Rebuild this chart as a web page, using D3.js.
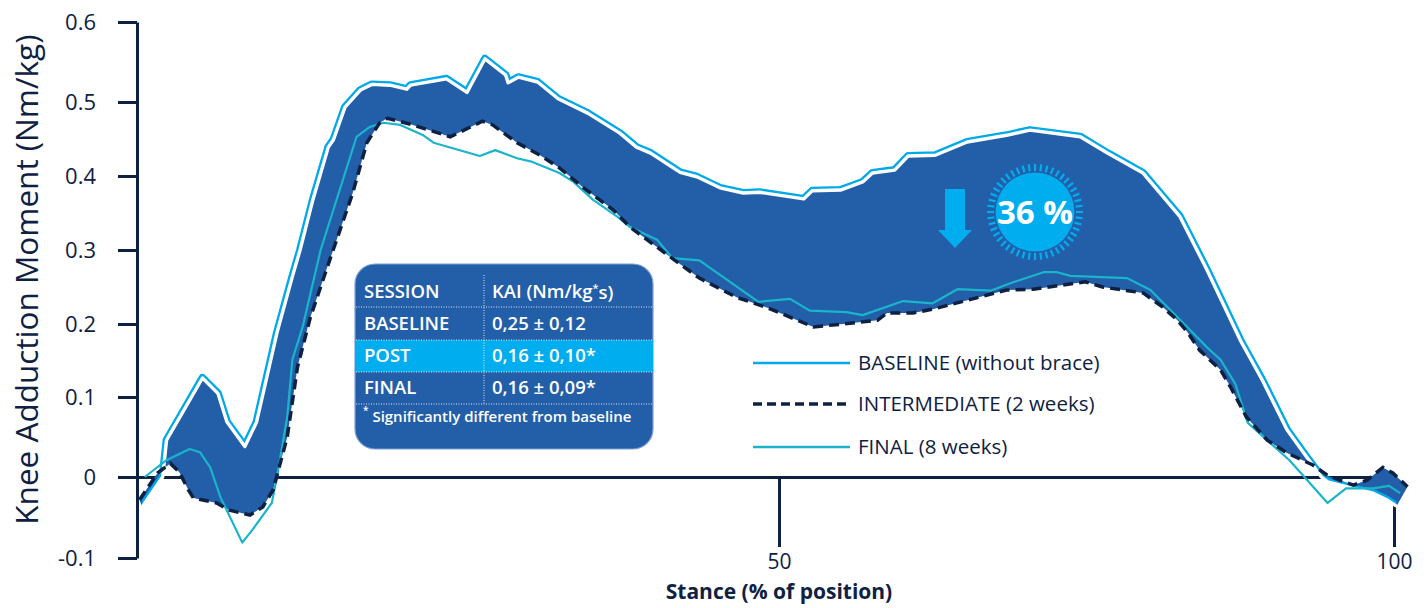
<!DOCTYPE html>
<html><head><meta charset="utf-8">
<script src="https://cdn.jsdelivr.net/npm/d3@7"></script>
<style>
html,body{margin:0;padding:0;background:#fff;}
svg{display:block;font-family:"Open Sans","Noto Sans",sans-serif;}
</style></head>
<body><svg id="c" width="1428" height="608"></svg>
<script>
// ---------- DATA ----------
const baseline = [[0.4,-0.037],[2.0,0.0],[2.3,0.046],[5.1,0.126],[6.3,0.105],[7.0,0.069],[8.4,0.038],[9.3,0.068],[10.9,0.188],[12.1,0.264],[12.7,0.300],[13.7,0.368],[14.9,0.439],[15.3,0.449],[16.2,0.493],[17.4,0.515],[18.3,0.522],[19.7,0.521],[21.0,0.516],[21.3,0.521],[24.1,0.529],[25.7,0.512],[27.1,0.554],[28.7,0.534],[28.9,0.524],[29.7,0.531],[31.2,0.525],[32.8,0.504],[35.1,0.485],[37.6,0.458],[38.9,0.439],[40.0,0.431],[42.3,0.405],[43.6,0.399],[45.4,0.384],[47.2,0.377],[48.5,0.378],[52.0,0.369],[52.7,0.380],[55.0,0.381],[56.8,0.392],[57.6,0.404],[59.4,0.408],[60.5,0.427],[62.7,0.428],[65.3,0.446],[68.5,0.455],[70.4,0.462],[74.5,0.453],[76.7,0.431],[79.6,0.404],[82.6,0.345],[84.8,0.273],[87.5,0.178],[89.3,0.123],[91.3,0.059],[92.9,0.025],[94.1,0.0],[94.6,-0.006],[96.7,-0.014],[98.3,-0.020],[99.4,-0.028],[100.2,-0.036]];
const intermediate = [[0.2,-0.028],[1.6,0.005],[2.6,0.017],[3.3,0.006],[4.0,-0.016],[4.4,-0.026],[6.2,-0.032],[7.2,-0.041],[8.8,-0.047],[9.8,-0.037],[10.6,-0.016],[11.7,0.050],[12.5,0.141],[13.5,0.209],[15.0,0.286],[16.8,0.377],[17.9,0.445],[18.9,0.472],[19.5,0.478],[21.3,0.470],[24.4,0.453],[26.9,0.474],[27.7,0.469],[29.6,0.445],[31.4,0.428],[32.9,0.411],[34.7,0.385],[37.1,0.354],[38.4,0.331],[41.5,0.291],[43.8,0.262],[46.7,0.236],[49.1,0.222],[52.8,0.196],[55.2,0.200],[58.0,0.205],[58.8,0.215],[60.9,0.215],[62.5,0.220],[65.3,0.232],[68.5,0.246],[70.7,0.247],[74.9,0.257],[76.3,0.250],[79.6,0.242],[81.2,0.223],[82.4,0.205],[83.2,0.189],[84.2,0.164],[85.9,0.137],[86.7,0.114],[88.0,0.075],[89.7,0.046],[91.3,0.030],[93.4,0.015],[94.6,0.002],[95.6,-0.004],[96.7,-0.010],[97.8,-0.004],[99.1,0.012],[99.9,0.005],[101.1,-0.012]];
const final8 = [[0.6,0.0],[2.3,0.021],[4.1,0.035],[4.9,0.031],[5.7,0.012],[6.5,-0.025],[8.2,-0.081],[9.0,-0.065],[10.5,-0.032],[11.0,0.009],[11.7,0.075],[12.1,0.151],[12.9,0.196],[14.3,0.300],[17.1,0.453],[18.1,0.466],[19.2,0.472],[20.5,0.469],[22.3,0.455],[23.1,0.445],[26.7,0.427],[27.9,0.435],[29.6,0.424],[30.8,0.419],[32.9,0.404],[34.0,0.392],[35.5,0.368],[37.4,0.345],[38.4,0.331],[40.5,0.314],[41.7,0.289],[43.8,0.286],[48.4,0.230],[50.9,0.234],[52.5,0.218],[55.5,0.216],[56.8,0.212],[60.1,0.231],[62.5,0.228],[64.5,0.247],[67.2,0.245],[68.8,0.255],[71.5,0.270],[72.6,0.270],[73.7,0.265],[78.3,0.262],[80.2,0.246],[82.0,0.216],[83.4,0.192],[84.8,0.168],[85.9,0.151],[87.1,0.118],[88.1,0.068],[89.9,0.043],[91.5,0.021],[94.6,-0.032],[96.1,-0.014],[98.3,-0.014],[99.6,-0.011],[100.5,-0.020]];

const yTicks = [-0.1, 0, 0.1, 0.2, 0.3, 0.4, 0.5, 0.6];
const yTickLabels = ["-0.1", "0", "0.1", "0.2", "0.3", "0.4", "0.5", "0.6"];
const xTicks = [50, 100];
const xTickLabels = ["50", "100"];

const legendLabels = ["BASELINE (without brace)", "INTERMEDIATE (2 weeks)", "FINAL (8 weeks)"];
const tableHeader = ["SESSION", "KAI (Nm/kg", "s)"];
const tableSessions = ["BASELINE", "POST", "FINAL"];
const tableKAI = ["0,25 ± 0,12", "0,16 ± 0,10*", "0,16 ± 0,09*"];
const footnote = "Significantly different from baseline";
const reduction = "36 %";

// ---------- STYLE ----------
const NAVY = "#0e2142", FILL = "#235ea8", LIGHT = "#00a9e8", TEAL = "#1ab5cb", BADGE = "#00aeef";

const svg = d3.select("#c");

// polylinear scales (the printed axis is not evenly spaced)
const y = d3.scaleLinear().domain(yTicks).range([558, 477, 397, 324, 250, 176, 102, 22]);
const x = d3.scaleLinear().domain([0, 50, 100]).range([137, 779, 1394]);

const line = d3.line().x(d => x(d[0])).y(d => y(d[1]));

// ---------- AXES ----------
const yAxis = svg.append("g").attr("transform", `translate(${x(0)},0)`)
  .call(d3.axisLeft(y).tickValues(yTicks).tickSize(19).tickSizeOuter(0).tickPadding(22)
    .tickFormat((d, i) => yTickLabels[i]));
yAxis.select(".domain").attr("stroke", NAVY).attr("stroke-width", 3);
yAxis.selectAll(".tick line").attr("stroke", NAVY).attr("stroke-width", 3);
yAxis.selectAll(".tick text").attr("fill", NAVY).attr("font-size", 22)
  .attr("font-family", "Open Sans, Noto Sans, sans-serif");

const xAxis = svg.append("g").attr("transform", `translate(0,${y(0)})`)
  .call(d3.axisBottom(x).tickValues(xTicks).tickSize(70).tickSizeOuter(0).tickPadding(7)
    .tickFormat((d, i) => xTickLabels[i]));
xAxis.select(".domain").attr("stroke", NAVY).attr("stroke-width", 3);
xAxis.selectAll(".tick line").attr("stroke", NAVY).attr("stroke-width", 3);
xAxis.selectAll(".tick text").attr("fill", NAVY).attr("font-size", 21)
  .attr("font-family", "Open Sans, Noto Sans, sans-serif");

svg.append("text").attr("x", x(50)).attr("y", 599).attr("text-anchor", "middle")
  .attr("fill", NAVY).attr("font-size", 21).attr("font-weight", 700)
  .text("Stance (% of position)");

svg.append("text").attr("transform", `translate(38,${y(0.26)}) rotate(-90)`)
  .attr("text-anchor", "middle").attr("fill", NAVY).attr("font-size", 31.5)
  .text("Knee Adduction Moment (Nm/kg)");

// ---------- BAND ----------
const band = baseline.concat(intermediate.slice().reverse());
svg.append("path").attr("d", line(band) + "Z").attr("fill", FILL);

// clip: region above the baseline curve
const clipPts = baseline.concat([[102, 0.65], [-1, 0.65]]);
svg.append("clipPath").attr("id", "above").append("path").attr("d", line(clipPts) + "Z");

svg.append("path").attr("d", line(baseline)).attr("fill", "none")
  .attr("stroke", LIGHT).attr("stroke-width", 8).attr("stroke-linejoin", "round")
  .attr("clip-path", "url(#above)");
svg.append("path").attr("d", line(baseline)).attr("fill", "none")
  .attr("stroke", "#fff").attr("stroke-width", 3.4).attr("stroke-linejoin", "round");

// ---------- LINES ----------
svg.append("path").attr("d", line(final8)).attr("fill", "none")
  .attr("stroke", TEAL).attr("stroke-width", 2.2).attr("stroke-linejoin", "round");
svg.append("path").attr("d", line(intermediate)).attr("fill", "none")
  .attr("stroke", NAVY).attr("stroke-width", 3.5).attr("stroke-dasharray", "10,6");

// ---------- LEGEND ----------
const legStyles = [
  {stroke: LIGHT, w: 2.5, dash: null},
  {stroke: NAVY, w: 3.5, dash: "9,5"},
  {stroke: TEAL, w: 2.5, dash: null}
];
const legY = [363, 404, 447];
const leg = svg.append("g");
legendLabels.forEach((t, i) => {
  leg.append("line").attr("x1", 753).attr("x2", 850).attr("y1", legY[i]).attr("y2", legY[i])
    .attr("stroke", legStyles[i].stroke).attr("stroke-width", legStyles[i].w)
    .attr("stroke-dasharray", legStyles[i].dash);
  leg.append("text").attr("x", 858).attr("y", legY[i]).attr("dy", "0.35em")
    .attr("fill", NAVY).attr("font-size", 20.5).text(t);
});

// ---------- TABLE ----------
const tb = svg.append("g");
tb.append("rect").attr("x", 355).attr("y", 264).attr("width", 298).attr("height", 185)
  .attr("rx", 20).attr("fill", FILL).attr("stroke", "#7ea0d4").attr("stroke-width", 1.2);
tb.append("rect").attr("x", 355).attr("y", 340).attr("width", 298).attr("height", 32).attr("fill", BADGE);
[307, 340, 372, 404].forEach(yy => {
  tb.append("line").attr("x1", 356).attr("x2", 653).attr("y1", yy).attr("y2", yy)
    .attr("stroke", "#fff").attr("stroke-width", 1).attr("stroke-dasharray", "1,1.5").attr("opacity", 0.85);
});
tb.append("line").attr("x1", 484).attr("x2", 484).attr("y1", 275).attr("y2", 404)
  .attr("stroke", "#fff").attr("stroke-width", 1).attr("stroke-dasharray", "1,1.5").attr("opacity", 0.85);

const rowY = [292, 324, 356, 388];
const tfont = 18.5, tw = 600;
tb.append("text").attr("x", 364).attr("y", rowY[0]).attr("dy", "0.35em").attr("fill", "#fff")
  .attr("font-size", tfont).attr("font-weight", tw).text(tableHeader[0]);
const hk = tb.append("text").attr("x", 492).attr("y", rowY[0]).attr("dy", "0.35em").attr("fill", "#fff")
  .attr("font-size", tfont).attr("font-weight", tw);
hk.append("tspan").text(tableHeader[1]);
hk.append("tspan").attr("font-size", 11).attr("dy", "-0.55em").text("*");
hk.append("tspan").attr("dy", "0.35em").text(tableHeader[2]);
tableSessions.forEach((s, i) => {
  tb.append("text").attr("x", 364).attr("y", rowY[i + 1]).attr("dy", "0.35em").attr("fill", "#fff")
    .attr("font-size", tfont).attr("font-weight", tw).text(s);
  tb.append("text").attr("x", 492).attr("y", rowY[i + 1]).attr("dy", "0.35em").attr("fill", "#fff")
    .attr("font-size", tfont).attr("font-weight", tw).text(tableKAI[i]);
});
const fn = tb.append("text").attr("x", 363).attr("y", 419).attr("dy", "0.35em").attr("fill", "#fff")
  .attr("font-size", 15).attr("font-weight", tw);
fn.append("tspan").attr("font-size", 10).attr("dy", "-0.5em").text("*");
fn.append("tspan").attr("dy", "0.5em").text(" " + footnote);

// ---------- BADGE ----------
const bg = svg.append("g");
const bx = 1035, by = 212;
bg.append("path").attr("fill", BADGE)
  .attr("d", `M${bx-90},189 h20 v41 h7 l-17,18 l-17,-18 h7 Z`);
bg.append("circle").attr("cx", bx).attr("cy", by).attr("r", 39.5).attr("fill", BADGE);
d3.range(48).forEach(i => {
  const a = i / 48 * 2 * Math.PI;
  bg.append("line")
    .attr("x1", bx + 41 * Math.cos(a)).attr("y1", by + 41 * Math.sin(a))
    .attr("x2", bx + 48 * Math.cos(a)).attr("y2", by + 48 * Math.sin(a))
    .attr("stroke", BADGE).attr("stroke-width", 2.2);
});
bg.append("text").attr("x", bx).attr("y", by).attr("dy", "0.35em").attr("text-anchor", "middle")
  .attr("fill", "#fff").attr("font-size", 33).attr("font-weight", 700).text(reduction);
</script></body></html>
